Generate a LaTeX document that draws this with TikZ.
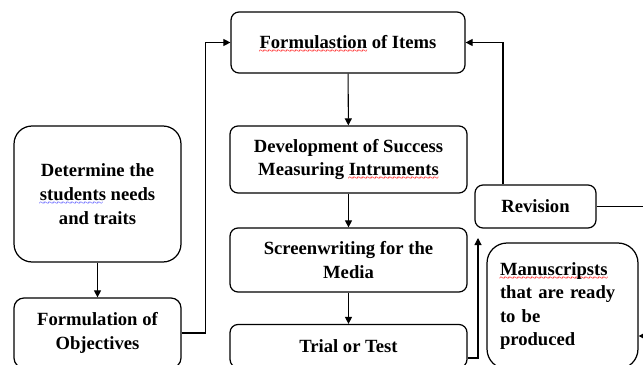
\documentclass[tikz,border=0pt]{standalone}
\usepackage{fontspec}
\setmainfont{Liberation Serif}
\usepackage{tikz}
\usetikzlibrary{arrows.meta}

\newlength{\wavylen}
\newcommand{\wavy}[2]{\settowidth{\wavylen}{#2}\rlap{\color{#1}\raisebox{-3.4pt}[0pt][0pt]{\hbox to \wavylen{\fontsize{6}{6}\selectfont\mdseries
        \leaders\hbox{\kern-0.35pt\char"7E\kern-0.35pt}\hfill}}}#2}

\begin{document}
\begin{tikzpicture}[x = 0.02cm, y = -0.02cm,
        stepbox/.style = {draw, line width = 0.7pt, rounded corners = 0.16cm, align = center,
                font = {\fontsize{10.6}{13.6}\selectfont\bfseries}, inner sep = 2pt},
        arrow/.style = {line width = 0.6pt, -{Triangle[length = 4pt, width = 4pt]}}]
        \clip (0, 0) rectangle (643, 365);

        \node[stepbox, minimum width = 4.68cm, minimum height = 1.22cm] (items) at (348, 42.5)
                {\wavy{red}{Formulastion} of Items};


        \node[stepbox, minimum width = 4.74cm, minimum height = 1.34cm] (develop) at (348.5, 159.5)
                {Development of Success\\Measuring \wavy{red}{Intruments}};


        \node[stepbox, minimum width = 4.74cm, minimum height = 1.28cm] (screen) at (348.5, 260)
                {Screenwriting for the\\Media};


        \node[stepbox, minimum width = 4.74cm, minimum height = 0.86cm] (trial) at (348.5, 346)
                {Trial or Test};


        \node[stepbox, rounded corners = 0.36cm, minimum width = 3.34cm, minimum height = 2.72cm] (needs) at (97.5, 194)
                {Determine the\\\wavy{blue!70}{students} needs\\and traits};


        \node[stepbox, rounded corners = 0.2cm, minimum width = 3.34cm, minimum height = 1.4cm] (objectives) at (97.5, 333)
                {Formulation of\\Objectives};


        \node[stepbox, minimum width = 2.42cm, minimum height = 0.86cm] (revision) at (535.5, 206.5)
                {Revision};


        \node[stepbox, rounded corners = 0.4cm, minimum width = 3.02cm, minimum height = 2.52cm,
                align = left, text width = 2.5cm, font = {\fontsize{10.6}{13.2}\selectfont\bfseries}] (manuscripts) at (562.5, 306)
                {\wavy{red}{Manuscripsts}\\that are ready\\to be\\produced};


        \coordinate (revin) at (478, 238);
        \coordinate (revout) at (660, 206.5);
        \coordinate (manuin) at (660, 336);

        \draw[arrow] (needs) -- (objectives);
        \draw[arrow] (objectives.east) -- ++(24, 0) |- (items.west);
        \draw[arrow] (items) -- (develop);
        \draw[arrow] (develop) -- (screen);
        \draw[arrow] (screen) -- (trial);
        \draw[arrow] ([yshift = -0.24cm]trial.east) -| (revin);
        \draw[arrow] ([xshift = -0.65cm]revision.north) |- (items.east);
        \draw[line width = 0.6pt] (revision.east) -- (revout);
        \draw[arrow] (manuin) -- (manuscripts.east |- manuin);
    \end{tikzpicture}
\end{document}
